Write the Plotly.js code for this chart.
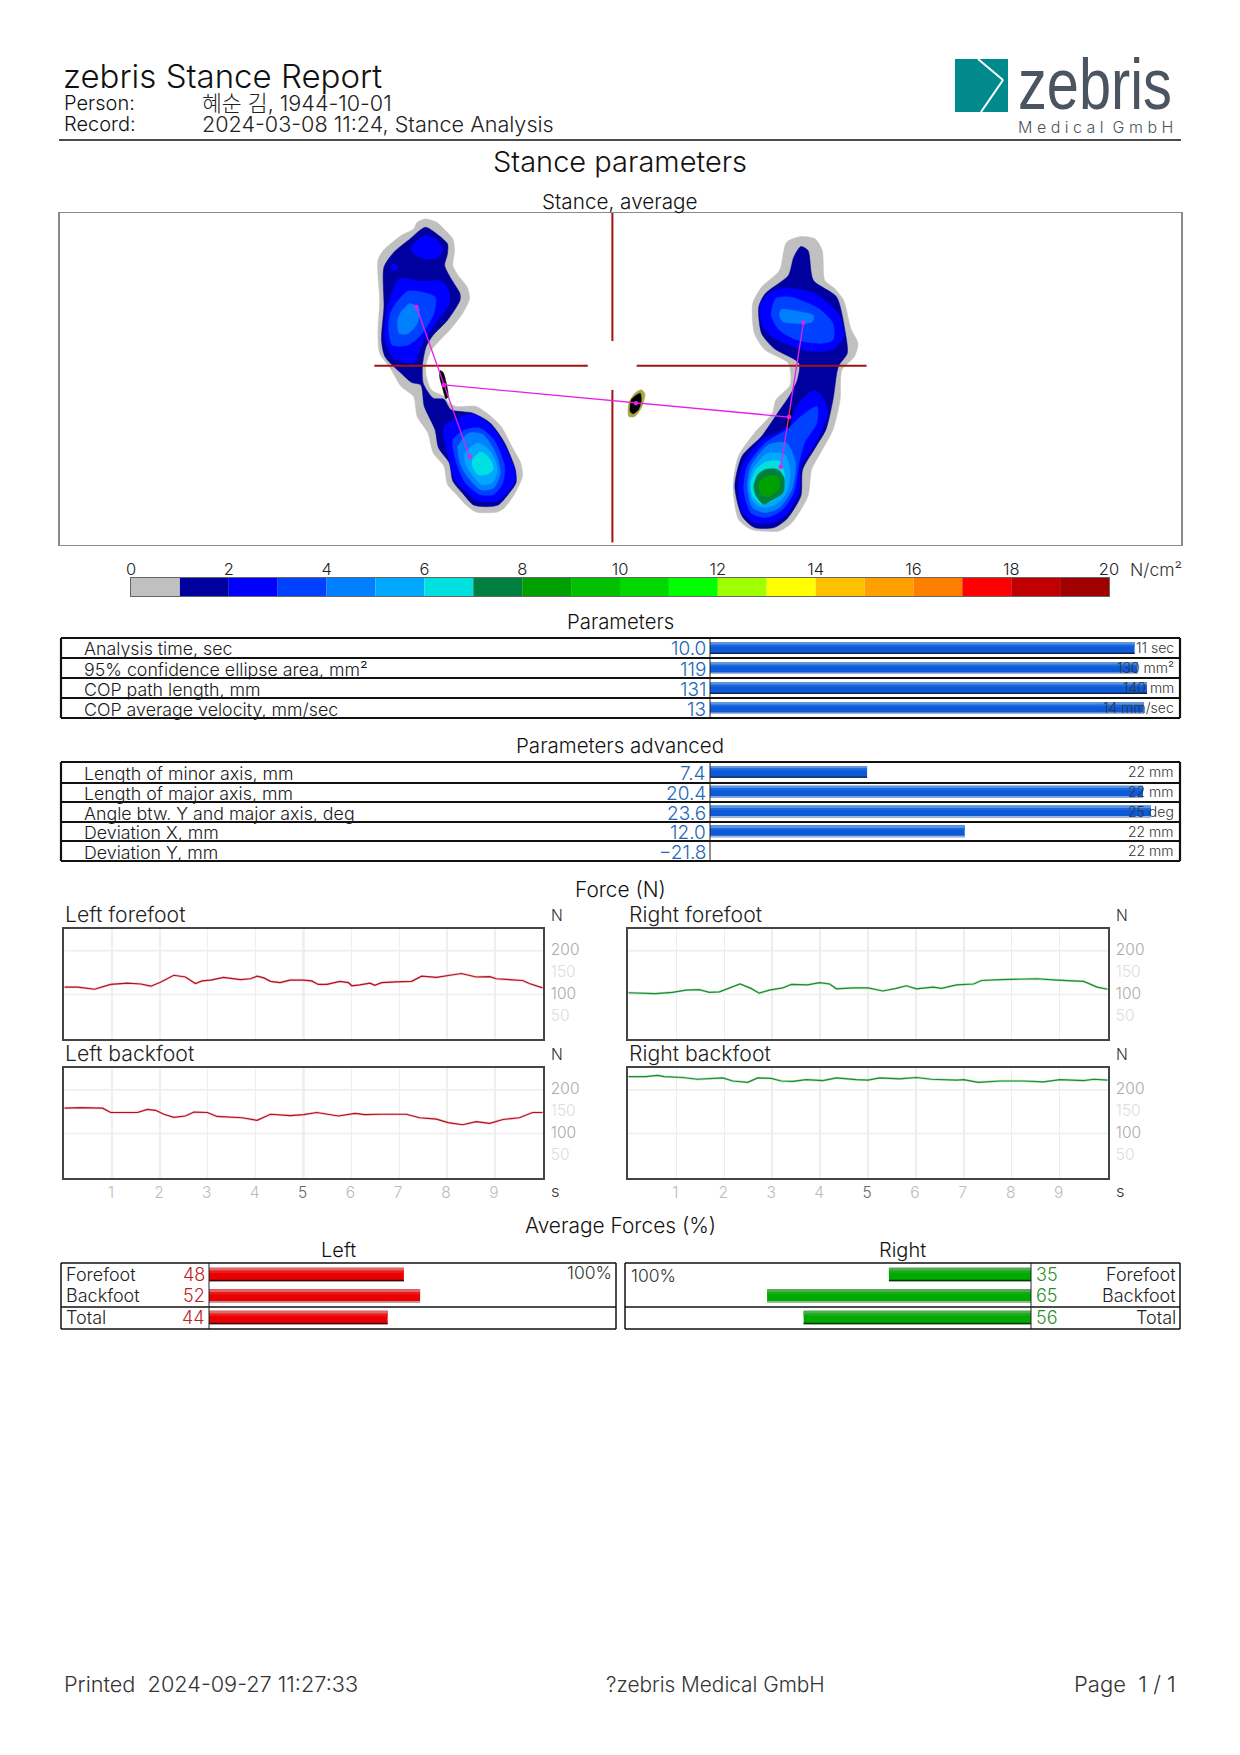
<!DOCTYPE html>
<html><head><meta charset="utf-8">
<script src="https://cdn.plot.ly/plotly-3.0.1.min.js"></script>
<style>html,body{margin:0;padding:0;background:#fff}</style></head>
<body><div id="chart" style="width:1240px;height:1755px"></div>
<script>
// ---------- Data ----------
const scaleLevels=[0,1,2,3,4,5,6,7,8,9,10,11,12,13,14,15,16,17,18,19];
const scaleColors=['#c0c0c0','#00009f','#0000ff','#0040ff','#0080ff','#00a8ff','#00e0e0','#008040','#00a000','#00c000','#00d800','#00ff00','#a0ff00','#ffff00','#ffc000','#ffa000','#ff8000','#ff0000','#c00000','#a00000'];
const scaleTicks=[0,2,4,6,8,10,12,14,16,18,20];

const paramLabels=['Analysis time, sec','95% confidence ellipse area, mm²','COP path length, mm','COP average velocity, mm/sec'];
const paramValues=[10.0,119,131,13];
const paramText=['10.0','119','131','13'];
const paramMax=[11,130,140,14];
const paramMaxText=['11 sec','130 mm²','140 mm','14 mm/sec'];

const advLabels=['Length of minor axis, mm','Length of major axis, mm','Angle btw. Y and major axis, deg','Deviation X, mm','Deviation Y, mm'];
const advValues=[7.4,20.4,23.6,12.0,-21.8];
const advText=['7.4','20.4','23.6','12.0','−21.8'];
const advMax=[22,22,25,22,22];
const advMaxText=['22 mm','22 mm','25 deg','22 mm','22 mm'];

const avgLabels=['Forefoot','Backfoot','Total'];
const avgLeft=[48,52,44];
const avgRight=[35,65,56];

const lfT=[0,.28,.63,.97,1.32,1.6,1.81,2.01,2.29,2.53,2.74,2.88,3.06,3.33,3.68,3.89,4.03,4.17,4.31,4.51,4.72,5.0,5.17,5.31,5.49,5.76,5.94,6.01,6.18,6.39,6.49,6.63,6.94,7.26,7.47,7.78,8.06,8.3,8.61,8.89,9.03,9.31,9.58,9.72,10];
const lfF=[117,117,112,123,126,124,119,128,144,140,125,131,133,139,134,136,142,138,130,127,133,133,131,123,123,130,127,120,122,126,121,127,129,130,142,139,144,148,140,141,136,134,132,125,115];
const lbT=[0,.35,.8,.97,1.53,1.74,1.91,2.08,2.29,2.53,2.71,2.99,3.19,3.72,4.03,4.31,4.72,5.0,5.28,5.73,6.08,6.28,6.6,7.15,7.43,7.78,8.02,8.33,8.61,8.89,9.17,9.51,9.79,10];
const lbF=[158,159,158,148,148,155,153,144,137,140,149,148,139,136,130,144,141,143,148,140,146,143,144,144,136,133,125,120,127,123,132,136,148,148];
const rfT=[0,.57,.92,1.2,1.48,1.69,1.9,2.11,2.33,2.56,2.73,2.94,3.22,3.4,3.74,3.99,4.2,4.34,4.69,5.0,5.31,5.59,5.8,6.01,6.36,6.53,6.85,7.2,7.37,7.75,8.17,8.52,8.94,9.5,9.78,10];
const rfF=[104,102,105,110,111,105,106,114,124,114,103,110,115,123,122,127,124,113,115,115,108,114,120,113,117,114,122,124,132,134,136,136,133,130,117,112];
const rbT=[0,.36,.61,.75,1.13,1.44,1.97,2.18,2.49,2.7,2.98,3.19,3.43,3.71,4.06,4.34,4.76,5.0,5.24,5.66,6.01,6.32,6.85,6.99,7.3,7.75,8.24,8.66,9.01,9.5,9.71,10];
const rbF=[230,230,233,230,228,224,227,220,217,227,226,220,219,223,221,227,223,222,227,225,228,224,222,223,217,220,220,218,223,221,224,222];
const forceTicksX=[1,2,3,4,5,6,7,8,9];
const forceTicksY=[50,100,150,200];

// Pressure contours, plate units
const lGray=[[238,55],[270,65],[290,85],[315,115],[320,150],[315,195],[330,225],[355,260],[362,295],[345,335],[310,385],[275,425],[255,450],[240,495],[240,525],[255,570],[290,590],[305,610],[325,620],[380,620],[410,640],[450,680],[480,740],[505,790],[510,830],[490,880],[460,925],[440,938],[380,938],[350,915],[325,885],[300,855],[290,800],[260,760],[245,700],[215,650],[205,590],[170,560],[140,505],[110,460],[105,400],[110,300],[105,180],[120,150],[170,105],[205,85],[215,65]];
const lNavy=[[238,80],[270,100],[300,130],[300,160],[292,195],[310,235],[335,280],[335,300],[300,360],[260,405],[240,440],[230,495],[232,550],[260,595],[290,598],[310,630],[370,640],[420,670],[460,730],[490,810],[492,850],[470,885],[440,918],[375,918],[345,885],[315,845],[305,790],[275,745],[265,690],[235,620],[225,555],[200,548],[170,520],[125,470],[115,420],[122,320],[122,200],[150,155],[195,115]];
const lToeBlue=[[240,105],[270,118],[285,145],[275,170],[235,175],[205,160],[198,145],[215,120]];
const lToeDot=[[150,190],[162,200],[150,212],[140,200]];
const lFore1=[[165,235],[225,243],[285,243],[305,275],[305,310],[270,365],[235,420],[215,470],[205,490],[150,475],[125,420],[130,330]];
const lFore2=[[155,310],[190,272],[265,290],[262,340],[225,405],[190,435],[145,435],[135,380],[140,340]];
const lFore3=[[195,310],[220,325],[215,370],[190,400],[165,400],[160,360],[170,335]];
const lHeel1=[[290,680],[340,650],[375,645],[420,675],[460,740],[490,820],[485,855],[440,905],[385,905],[355,880],[320,840],[300,760]];
const lHeel2=[[315,720],[350,690],[390,685],[430,720],[460,800],[455,850],[430,885],[390,885],[350,850],[325,790]];
const lHeel3=[[330,740],[360,700],[400,705],[435,760],[448,820],[430,865],[395,872],[355,830],[335,790]];
const lHeel4=[[350,760],[385,730],[420,755],[440,810],[425,850],[395,855],[365,820],[350,790]];
const lHeel5=[[370,780],[395,757],[420,780],[428,810],[410,825],[385,825],[370,800]];
const rGray=[[1290,108],[1330,115],[1350,150],[1357,240],[1385,265],[1410,300],[1430,385],[1450,430],[1440,470],[1405,510],[1400,600],[1380,690],[1345,760],[1320,810],[1310,890],[1265,970],[1230,995],[1150,990],[1115,960],[1100,860],[1115,770],[1160,700],[1210,640],[1220,600],[1260,555],[1255,490],[1190,450],[1160,400],[1155,310],[1180,260],[1230,210],[1250,125]];
const rNavy=[[1290,138],[1310,150],[1325,240],[1390,290],[1415,400],[1420,460],[1395,500],[1380,600],[1360,690],[1330,745],[1295,810],[1290,890],[1250,960],[1215,985],[1160,985],[1125,950],[1105,860],[1125,770],[1180,710],[1225,640],[1260,585],[1280,540],[1285,490],[1215,445],[1180,400],[1172,320],[1190,280],[1255,225],[1270,170]];
const rFore1=[[1205,275],[1250,262],[1330,280],[1395,340],[1410,410],[1385,445],[1330,455],[1270,440],[1210,410],[1180,370],[1178,310]];
const rFore2=[[1220,295],[1260,290],[1340,325],[1380,370],[1380,420],[1345,430],[1280,420],[1230,390],[1207,345]];
const rFore3=[[1235,328],[1290,335],[1325,345],[1322,365],[1290,370],[1240,365],[1230,345]];
const rHeel1=[[1325,572],[1350,590],[1365,640],[1345,700],[1320,750],[1290,800],[1285,880],[1245,950],[1210,970],[1160,970],[1125,935],[1115,860],[1130,790],[1180,720],[1240,690],[1285,610]];
const rHeel2=[[1335,620],[1335,670],[1300,730],[1285,790],[1270,880],[1235,935],[1190,955],[1150,940],[1130,870],[1140,800],[1190,730],[1250,690],[1290,650]];
const rHeel3=[[1200,735],[1250,730],[1275,790],[1265,870],[1230,925],[1190,940],[1155,925],[1140,865],[1150,800]];
const rHeel4=[[1195,762],[1245,765],[1260,820],[1250,880],[1220,915],[1185,925],[1155,905],[1145,860],[1155,810]];
const rHeel5=[[1190,788],[1230,785],[1245,830],[1240,880],[1210,905],[1180,915],[1155,890],[1150,850],[1165,810]];
const rHeel6=[[1190,810],[1225,810],[1243,835],[1240,880],[1205,905],[1185,915],[1165,890],[1158,860],[1170,825]];
const rHeel7=[[1195,830],[1225,830],[1230,865],[1205,890],[1185,890],[1172,865],[1175,845]];
const ellipseMidOuter=[[843,570],[853,582],[845,620],[825,650],[808,650],[808,610],[825,580]];
const ellipseMidInner=[[840,580],[843,600],[835,630],[820,642],[812,635],[815,600],[830,585]];
const ellipseLeft=[[280,512],[288,518],[302,590],[296,597],[285,560],[278,530]];
const ellipseRight=[[1260,620],[1265,640],[1255,685],[1248,680],[1255,640]];
const copLeft=[[213,320],[290,555],[362,772]];
const copRight=[[1297,368],[1257,652],[1234,802]];
const copCross=[[290,555],[828,610],[1257,652]];
const crossSegments=[[[95,497],[693,497]],[[830,497],[1474,497]],[[762,37],[762,423]],[[762,570],[762,1030]]];

// ---------- Helpers ----------
const W=1240,H=1755,FONT='Inter,"Noto Sans CJK KR","Noto Sans",sans-serif',WT=300;
const px=x=>x/W, py=y=>1-y/H;
const dx=(a,b)=>[px(a),px(b)], dy=(top,bot)=>[py(bot),py(top)];
const ann=[],shp=[],tr=[];
function T(text,x,y,size,color,anchor,fam){ann.push({text,x:px(x),y:py(y),xref:'paper',yref:'paper',xanchor:anchor||'left',yanchor:'middle',showarrow:false,font:{family:fam||FONT,size,color:color||'#111',weight:WT}});}
function L(x0,y0,x1,y1,c,w){shp.push({type:'line',xref:'paper',yref:'paper',x0:px(x0),y0:py(y0),x1:px(x1),y1:py(y1),line:{color:c,width:w}});}
function poly(p,c,shape){const q=p.concat([p[0]]);tr.push({type:'scatter',mode:'lines',x:q.map(a=>a[0]),y:q.map(a=>a[1]),fill:'toself',fillcolor:c,line:{color:c,width:0.5,shape:shape||'spline',smoothing:0.7},hoverinfo:'skip',showlegend:false,xaxis:'x',yaxis:'y'});}
const blank={showgrid:false,zeroline:false,showticklabels:false,ticks:'',fixedrange:true};

// ---------- Layout axes ----------
const layout={width:W,height:H,margin:{l:0,r:0,t:0,b:0},paper_bgcolor:'#fff',plot_bgcolor:'#fff',showlegend:false,barmode:'overlay',font:{family:FONT,weight:WT},annotations:ann,shapes:shp,
 xaxis:{...blank,domain:dx(59.5,1181),range:[-787,2355],showline:true,mirror:true,linecolor:'#8a8a8a',linewidth:1.5,anchor:'y'},
 yaxis:{...blank,domain:dy(213,544.5),range:[1036,37],showline:true,mirror:true,linecolor:'#8a8a8a',linewidth:1.5,anchor:'x'},
 xaxis2:{...blank,domain:dx(131,1109),range:[0,20],side:'top',anchor:'y2',showticklabels:true,tickmode:'array',tickvals:scaleTicks,ticktext:scaleTicks.map(String),tickfont:{family:FONT,size:16.5,color:'#222',weight:WT},ticklabelstandoff:-5,showline:true,mirror:true,linecolor:'#666',linewidth:1},
 yaxis2:{...blank,domain:dy(578,596),range:[0,1],anchor:'x2',showline:true,mirror:true,linecolor:'#666',linewidth:1},
 xaxis3:{...blank,domain:dx(710,1177),range:[0,1],anchor:'y3'},
 yaxis3:{...blank,domain:dy(638,718),range:[4,0],anchor:'x3'},
 xaxis4:{...blank,domain:dx(710,1177),range:[0,1],anchor:'y4'},
 yaxis4:{...blank,domain:dy(762,861),range:[5,0],anchor:'x4'},
 xaxis9:{...blank,domain:dx(209,615),range:[0,100],anchor:'y9'},
 yaxis9:{...blank,domain:dy(1263,1329),range:[2.535,-0.535],anchor:'x9'},
 xaxis10:{...blank,domain:dx(625,1031),range:[100,0],anchor:'y10'},
 yaxis10:{...blank,domain:dy(1263,1329),range:[2.535,-0.535],anchor:'x10'}
};

// ---------- Stance panel ----------
[[lGray,'#c0c0c0'],[rGray,'#c0c0c0'],[lNavy,'#00009f'],[rNavy,'#00009f'],[lToeBlue,'#0000ff'],[lToeDot,'#0000ff'],[lFore1,'#0000ff'],[lFore2,'#0040ff'],[lFore3,'#0080ff'],[lHeel1,'#0000ff'],[lHeel2,'#0040ff'],[lHeel3,'#0080ff'],[lHeel4,'#00a8ff'],[lHeel5,'#00e0e0'],[rFore1,'#0000ff'],[rFore2,'#0040ff'],[rFore3,'#0080ff'],[rHeel1,'#0000ff'],[rHeel2,'#0040ff'],[rHeel3,'#0080ff'],[rHeel4,'#00a8ff'],[rHeel5,'#00e0e0'],[rHeel6,'#008040'],[rHeel7,'#00a000'],[ellipseMidOuter,'#a8a840'],[ellipseMidInner,'#000000'],[ellipseLeft,'#000000'],[ellipseRight,'#000000']].forEach(a=>poly(a[0],a[1]));
crossSegments.forEach(s=>tr.push({type:'scatter',mode:'lines',x:s.map(a=>a[0]),y:s.map(a=>a[1]),line:{color:'#a01414',width:2},hoverinfo:'skip',xaxis:'x',yaxis:'y'}));
[copLeft,copRight,copCross].forEach(s=>tr.push({type:'scatter',mode:'lines+markers',x:s.map(a=>a[0]),y:s.map(a=>a[1]),line:{color:'#e81ee8',width:1.3},marker:{color:'#e81ee8',size:4.5},hoverinfo:'skip',xaxis:'x',yaxis:'y'}));

// ---------- Colour scale ----------
tr.push({type:'bar',x:scaleLevels.map(v=>v+0.5),y:scaleLevels.map(()=>1),width:scaleLevels.map(()=>1),marker:{color:scaleColors,line:{width:0}},hoverinfo:'skip',xaxis:'x2',yaxis:'y2'});

// ---------- Gradient bars ----------
function gbars(xv,yv,h,rowH,axX,axY,cols,edges){
  const f=h/rowH;
  const add=(off,wd,col)=>tr.push({type:'bar',orientation:'h',x:xv,y:yv.map(v=>v+off),width:yv.map(()=>wd),marker:{color:col,line:{width:0}},hoverinfo:'skip',xaxis:axX,yaxis:axY});
  add(0,f,cols[0]);
  add(-f*0.39,f*0.22,cols[1]);
  add(-f*0.2,f*0.16,cols[2]);
  add(f*0.44,f*0.12,edges);
}
const blueCols=['#0c5ad8','#5f93dc','#1a6ae0'];
const paramRows=paramValues.map((v,i)=>i+0.5);
const paramFrac=paramValues.map((v,i)=>Math.max(v,0)/paramMax[i]);
gbars(paramFrac,paramRows,12,20,'x3','y3',blueCols,['#10204a','#a8b8d4','#10204a','#a8b8d4']);
const advRows=advValues.map((v,i)=>i+0.5);
const advFrac=advValues.map((v,i)=>Math.max(v,0)/advMax[i]);
gbars(advFrac,advRows,12,20,'x4','y4',blueCols,['#10204a','#a8b8d4','#a8b8d4','#a8b8d4','#ffffff']);
const avgRows=[0,1,2];
gbars(avgLeft,avgRows,13.5,21.5,'x9','y9',['#ea0000','#d86a6a','#f01818'],['#301010','#bdbdbd','#301010']);
gbars(avgRight,avgRows,13.5,21.5,'x10','y10',['#00aa00','#55a855','#10b010'],['#103010','#bdbdbd','#103010']);

// ---------- Table furniture ----------
function table(x0,x1,ys,div,outerW,sepW){
  for(let i=1;i<ys.length-1;i++)L(x0,ys[i],x1,ys[i],'#111',sepW);
  L(div,ys[0],div,ys[ys.length-1],'#222',1);
  [[x0,ys[0],x1,ys[0]],[x0,ys[ys.length-1],x1,ys[ys.length-1]],[x0,ys[0],x0,ys[ys.length-1]],[x1,ys[0],x1,ys[ys.length-1]]].forEach(a=>L(a[0],a[1],a[2],a[3],'#111',outerW));
}
const pY=[638,658,678,698,718], aY=[762,783,802,822,841,861];
table(61,1180,pY,710,2.2,2); table(61,1180,aY,710,2.2,2);
paramLabels.forEach((t,i)=>{const y=(pY[i]+pY[i+1])/2+1;T(t,82,y,17.8,'#1a1a1a');T(paramText[i],707.5,y,19,'#2266b8','right');T(paramMaxText[i],1175.5,y-1.5,14,'#333','right');});
advLabels.forEach((t,i)=>{const y=(aY[i]+aY[i+1])/2+1;T(t,82,y,17.8,'#1a1a1a');T(advText[i],707.5,y,19,'#2266b8','right');T(advMaxText[i],1175.5,y-1.5,14,'#333','right');});
table(61,616,[1263,1307,1329],209,1.5,1.5); table(625,1180,[1263,1307,1329],1031,1.5,1.5);
const avgY=[1274,1295,1317];
avgLabels.forEach((t,i)=>{T(t,64,avgY[i],18,'#222');T(String(avgLeft[i]),207,avgY[i],18,'#c02020','right');T(t,1178,avgY[i],18,'#222','right');T(String(avgRight[i]),1034,avgY[i],18,'#2a8f2a');});
T('100%',614,1272,17.5,'#333','right');T('100%',629,1275,17.5,'#333');
T('Left',338,1250,20,'#111','center');T('Right',902,1250,20,'#111','center');

// ---------- Force panels ----------
const yTickText=['<span style="color:#dddddd">50</span>','<span style="color:#aaaaaa">100</span>','<span style="color:#dddddd">150</span>','<span style="color:#aaaaaa">200</span>'];
const xTickText=forceTicksX.map(v=>v===5?'<span style="color:#666666">5</span>':'<span style="color:#bbbbbb">'+v+'</span>');
function force(n,x0,x1,top,t,f,col,halo,title,labels){
  const xa='xaxis'+n,ya='yaxis'+n,xr='x'+n,yr='y'+n;
  layout[xa]={domain:dx(x0+1.3,x1-1.3),range:[0,10],anchor:yr,fixedrange:true,zeroline:false,showgrid:true,gridcolor:'#eeeeee',gridwidth:1.3,tickmode:'array',tickvals:forceTicksX,ticktext:xTickText,showticklabels:labels,ticks:'',ticklen:0,ticklabelshift:-1,ticklabelstandoff:0,tickfont:{family:FONT,size:15.5,weight:WT},showline:true,mirror:true,linecolor:'#444',linewidth:2};
  layout[ya]={domain:dy(top+1.3,top+110.7),range:[-1,249],anchor:xr,side:'right',fixedrange:true,zeroline:false,showgrid:false,tickmode:'array',tickvals:forceTicksY,ticktext:yTickText,ticks:'',ticklen:0,ticklabelstandoff:3,ticklabelshift:-1,tickfont:{family:FONT,size:15.5,weight:WT},showline:true,mirror:true,linecolor:'#444',linewidth:2};
  [100,200].forEach(v=>shp.push({type:'line',xref:xr+' domain',yref:yr,x0:0,x1:1,y0:v,y1:v,layer:'below',line:{color:'#eeeeee',width:1.5}}));
  shp.push({type:'line',xref:xr,yref:yr+' domain',x0:5,x1:5,y0:0,y1:1,layer:'below',line:{color:'#c4c4c4',width:1.5}});
  tr.push({type:'scatter',mode:'lines',x:t,y:f,line:{color:halo,width:2.4},hoverinfo:'skip',xaxis:xr,yaxis:yr});
  tr.push({type:'scatter',mode:'lines',x:t,y:f,line:{color:col,width:1.2},hoverinfo:'skip',xaxis:xr,yaxis:yr});
  T(title,x0,top-14,21.2,'#222');
  T('N',x1+5,top-13,15.5,'#333');
  if(labels)T('s',x1+5,top+124,16.5,'#333');
}
force(5,63,544,928,lfT,lfF,'#b01020','rgba(240,150,150,.5)','Left forefoot',false);
force(6,63,544,1067,lbT,lbF,'#b01020','rgba(240,150,150,.5)','Left backfoot',true);
force(7,627,1109,928,rfT,rfF,'#1c8a30','rgba(130,210,140,.5)','Right forefoot',false);
force(8,627,1109,1067,rbT,rbF,'#1c8a30','rgba(130,210,140,.5)','Right backfoot',true);

// ---------- Header, titles, footer ----------
T('zebris Stance Report',61,76.5,33,'#111');
T('Person:',62,103,20,'#111');T('혜순 김, 1944-10-01',200,103,21.6,'#222');
T('Record:',62,124,20,'#111');T('2024-03-08 11:24, Stance Analysis',200,124,21.6,'#222');
L(59,140,1181,140,'#111',1.5);
T('Stance parameters',620,161.5,29,'#111','center');
T('Stance, average',620,201,20.7,'#111','center');
T('N/cm²',1128,570,17.5,'#333');
T('Parameters',620,621,20.3,'#111','center');
T('Parameters advanced',620,745.5,20.5,'#111','center');
T('Force (N)',620,889,20.8,'#111','center');
T('Average Forces (%)',620,1225,20.9,'#111','center');
T('Printed  2024-09-27 11:27:33',62,1684,21.7,'#333');
T('?zebris Medical GmbH',604,1684,20.8,'#333');
T('Page  1 / 1',1178,1684,22,'#333','right');

// Logo
shp.push({type:'rect',xref:'paper',yref:'paper',x0:px(955),x1:px(1008),y0:py(112),y1:py(59),fillcolor:'#008a8c',line:{width:0}});
L(978,59,1003,80,'#fff',2);L(1003,80,981,112,'#fff',2);
T('zebris',1016,84,72,'#4a5560','left','"Liberation Sans",sans-serif');
T('M e d i c a l  G m b H',1016,127.5,16,'#4a5560');

Plotly.newPlot('chart',tr,layout,{staticPlot:true,displayModeBar:false}).then(()=>{
  document.querySelectorAll('#chart text').forEach(el=>{
    if(el.textContent==='zebris'){
      const b=el.getBBox(),sx=154/b.width;
      el.setAttribute('transform','translate('+(b.x*(1-sx))+',0) scale('+sx+',1)');
    }
  });
});
</script></body></html>
